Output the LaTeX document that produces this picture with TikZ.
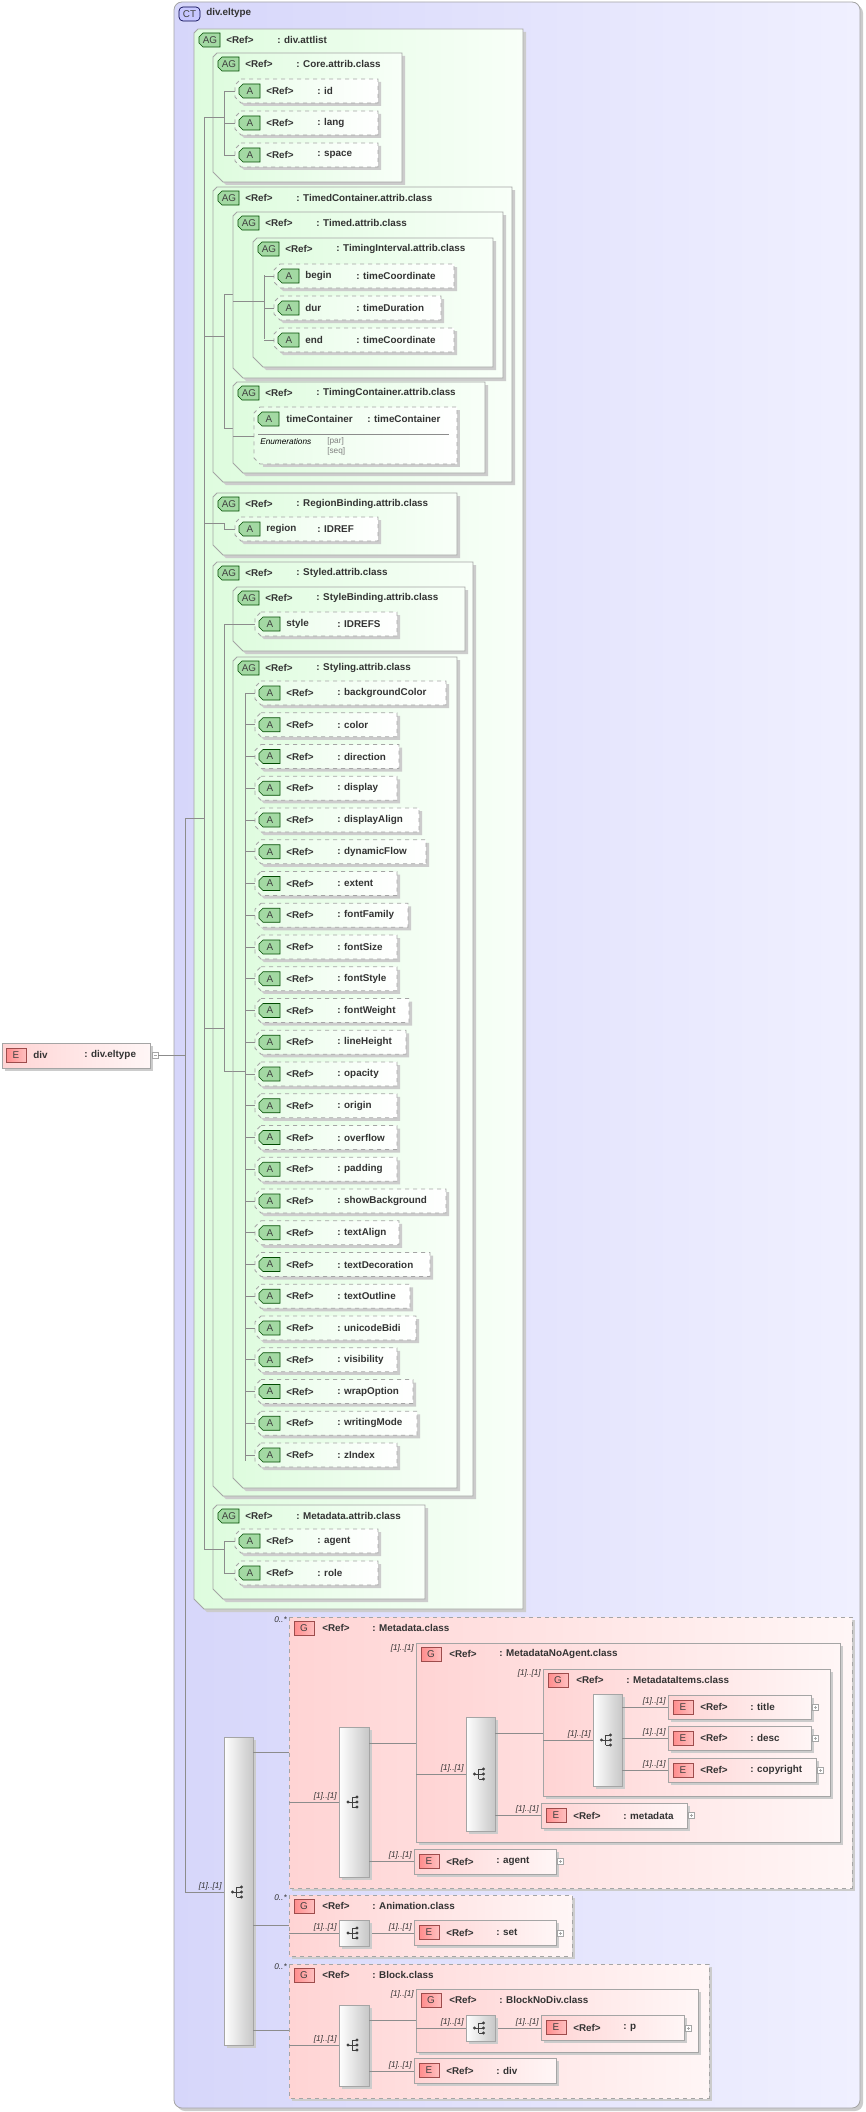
\documentclass[tikz,border=0pt]{standalone}
\usepackage{fontspec}
\setmainfont{Liberation Sans}
\begin{document}
\definecolor{ctL}{RGB}{214,214,250}
\definecolor{ctR}{RGB}{240,240,255}
\definecolor{agL}{RGB}{222,252,222}
\definecolor{agR}{RGB}{248,255,248}
\definecolor{pkL}{RGB}{255,212,212}
\definecolor{pkR}{RGB}{255,246,246}
\definecolor{bdr}{RGB}{165,165,165}
\definecolor{lnc}{RGB}{140,140,140}
\tikzset{
 shd/.style={fill=black!20},
 line/.style={draw=lnc, line width=0.5pt},
 txt/.style={anchor=west, inner sep=0pt, font=\fontsize{7.4}{8}\selectfont\bfseries, text=black!80},
 bdg/.style={inner sep=0pt, font=\fontsize{7.4}{8}\selectfont, text=black!75},
 mult/.style={anchor=south east, inner sep=0pt, font=\fontsize{6.2}{7}\selectfont\itshape, text=black!80},
 agfill/.style={draw=bdr, line width=0.6pt, left color=agL, right color=agR},
 afill/.style={draw=bdr, line width=0.6pt, dashed, left color=agL!70, right color=white},
 efill/.style={draw=bdr, line width=0.6pt, left color=pkL, right color=pkR},
 gfill/.style={draw=bdr, line width=0.6pt, dashed, left color=pkL, right color=pkR},
 sqfill/.style={draw=bdr, line width=0.6pt, left color=white, right color=black!22},
}
\newcommand\AGbadge[2]{%
 \draw[draw=black!50!green!60!black, fill=green!25!white!85!black, line width=0.5pt] (#1+4,#2-7)--(#1+21,#2-7)--(#1+21,#2+7)--(#1+4,#2+7)--(#1,#2+3)--(#1,#2-3)--cycle;}
\newcommand\AGbox[6]{%
 \fill[shd] (#1+7,#2+3)--(#3+3,#2+3)--(#3+3,#4+3)--(#1+13,#4+3)--(#1+3,#4-7)--cycle;
 \draw[agfill] (#1+4,#2)--(#3,#2)--(#3,#4)--(#1+10,#4)--(#1,#4-10)--(#1,#2+4)--cycle;
 \AGbadge{#1+5}{#2+11}
 \node[bdg] (#6b) at (#1+16,#2+11) {AG};
 \node[txt] (#6r) at (#1+32,#2+11) {<Ref>};
 \node[txt] (#6) at (#1+83,#2+11) {: #5};}
\newcommand\Abox[6]{%
 \fill[shd] (#1+9,#2-9)--(#3+3,#2-9)--(#3+3,#2+15)--(#1+9,#2+15)--(#1+3,#2+9)--cycle;
 \draw[afill] (#1+6,#2-12)--(#3,#2-12)--(#3,#2+12)--(#1+6,#2+12)--(#1,#2+6)--(#1,#2-6)--cycle;
 \AGbadge{#1+4}{#2}
 \node[bdg] (#6b) at (#1+15,#2) {A};
 \node[txt] (#6r) at (#1+31,#2) {#4};
 \node[txt] (#6) at (#1+82,#2) {#5};}
\newcommand\Ebadge[2]{%
 \draw[draw=red!45!black!70, left color=red!45!white, right color=red!25!white, line width=0.5pt] (#1,#2-7) rectangle (#1+20,#2+7);}
\newcommand\Ebox[7]{%
 \pgfmathsetmacro\ebm{(#2+#4)/2}
 \fill[shd] (#1+3,#2+3) rectangle (#3+3,#4+3);
 \draw[efill] (#1,#2) rectangle (#3,#4);
 \Ebadge{#1+5}{\ebm}
 \node[bdg] (#7b) at (#1+15,\ebm) {E};
 \node[txt] (#7r) at (#1+32,\ebm) {#5};
 \node[txt] (#7) at (#1+82,\ebm) {#6};}
\newcommand\Pl[2]{%
 \draw[draw=black!35, fill=white, line width=0.4pt] (#1,#2-3) rectangle (#1+6,#2+3);
 \draw[draw=black!35, line width=0.4pt] (#1+1.5,#2)--(#1+4.5,#2) (#1+3,#2-1.5)--(#1+3,#2+1.5);}
\newcommand\Gbox[7]{%
 \fill[shd] (#1+3,#2+3) rectangle (#3+3,#4+3);
 \draw[#6] (#1,#2) rectangle (#3,#4);
 \Ebadge{#1+5}{#2+11}
 \node[bdg] (#7b) at (#1+15,#2+11) {G};
 \node[txt] (#7r) at (#1+33,#2+11) {<Ref>};
 \node[txt] (#7) at (#1+83,#2+11) {: #5};}
\newcommand\Sq[6]{%
 \pgfmathsetmacro\sqm{(#1+#3)/2}
 \fill[shd] (#1+3,#2+3) rectangle (#3+3,#4+3);
 \draw[sqfill] (#1,#2) rectangle (#3,#4);
 \coordinate (#6) at (\sqm,#5);
 \begin{scope}[shift={(#6)}]
 \draw[black!75, line width=0.7pt] (-6,0)--(-2,0) (-2,-5)--(-2,5) (-2,-5)--(3,-5) (-2,5)--(3,5) (-2,0)--(3,0);
 \fill[black!75] (-6,0) circle (1.6) (3,-5) circle (1.7) (3,0) circle (1.7) (3,5) circle (1.7);
 \end{scope}}
\begin{tikzpicture}[x=0.75pt,y=-0.75pt]
\useasboundingbox (0,0) rectangle (865,2112);
% CT box
\fill[shd, rounded corners=6] (177,5) rectangle (863,2111);
\draw[draw=bdr, line width=0.6pt, left color=ctL, right color=ctR, rounded corners=6] (174,2) rectangle (860,2108);
\draw[draw=black!50!blue!60!black, fill=blue!22!white, rounded corners=3, line width=0.5pt] (179,7) rectangle (200,21);
\node[bdg] (ctb) at (189.5,14) {CT};
\node[txt] (ct) at (206,13) {div.eltype};
% root element
\fill[shd] (5,1046) rectangle (153,1071);
\draw[efill] (2,1043) rectangle (150,1068);
\Ebadge{6}{1055}
\node[bdg] (rootb) at (16,1055) {E};
\node[txt] (rootr) at (33,1055) {div};
\node[txt] (root) at (84,1055) {: div.eltype};
\draw[draw=black!35, fill=white, line width=0.4pt] (152,1052) rectangle (158,1058);
\draw[draw=black!35, line width=0.4pt] (153.5,1055)--(156.5,1055);
\coordinate (rootP) at (158,1055);
\coordinate (j0) at (185,1055);
\draw[line] (rootP)--(j0);
\draw[line] (185,818)--(185,1892);
% attlist
\AGbox{194}{29}{523}{1609}{div.attlist}{attlist}
\draw[line] (185,818)--(204,818);
\draw[line] (204,117)--(204,1549);
% Core
\AGbox{213}{53}{402}{182}{Core.attrib.class}{core}
\draw[line] (204,117)--(224,117) (224,91)--(224,155);
\Abox{235}{91}{378}{<Ref>}{: id}{aid}
\Abox{235}{123}{378}{<Ref>}{: lang}{alang}
\Abox{235}{155}{378}{<Ref>}{: space}{aspace}
\foreach \yy in {91,123,155} \draw[line] (224,\yy)--(235,\yy);
% TimedContainer
\AGbox{213}{187}{512}{482}{TimedContainer.attrib.class}{timedc}
\draw[line] (204,336)--(224,336) (224,294)--(224,428) (224,294)--(233,294) (224,428)--(233,428);
\AGbox{233}{212}{503}{378}{Timed.attrib.class}{timed}
\AGbox{253}{238}{493}{367}{TimingInterval.attrib.class}{tint}
\draw[line] (233,301)--(264,301) (264,275)--(264,339);
\Abox{274}{276}{454}{begin}{: timeCoordinate}{abegin}
\Abox{274}{308}{441}{dur}{: timeDuration}{adur}
\Abox{274}{340}{454}{end}{: timeCoordinate}{aend}
\foreach \yy in {276,308,340} \draw[line] (264,\yy)--(274,\yy);
\AGbox{233}{382}{485}{473}{TimingContainer.attrib.class}{tcont}
\fill[shd] (263,410) rectangle (460,467);
\draw[afill] (260,407)--(457,407)--(457,464)--(260,464)--(254,458)--(254,413)--cycle;
\AGbadge{258}{419}
\node[bdg] (atcb) at (269,419) {A};
\node[txt] (atcr) at (286,419) {timeContainer};
\node[txt] (atc) at (367,419) {: timeContainer};
\draw[draw=black!45, line width=0.5pt] (258,434)--(449,434);
\node[anchor=west, inner sep=0pt, font=\fontsize{6.2}{7}\selectfont\itshape] (enum) at (260,442) {Enumerations};
\node[anchor=west, inner sep=0pt, font=\fontsize{6.2}{7}\selectfont, text=black!50] (epar) at (327,441) {[par]};
\node[anchor=west, inner sep=0pt, font=\fontsize{6.2}{7}\selectfont, text=black!50] (eseq) at (327,451) {[seq]};
\draw[line] (233,436)--(254,436);
% RegionBinding
\AGbox{213}{493}{457}{555}{RegionBinding.attrib.class}{regb}
\Abox{235}{529}{378}{region}{: IDREF}{aregion}
\draw[line] (204,523)--(224,523)--(224,529)--(235,529);
% Styled
\AGbox{213}{562}{473}{1496}{Styled.attrib.class}{styled}
\draw[line] (204,1028)--(224,1028) (224,624)--(224,1071) (224,1071)--(233,1071);
\AGbox{233}{587}{465}{651}{StyleBinding.attrib.class}{styleb}
\Abox{255}{624}{397}{style}{: IDREFS}{astyle}
\draw[line] (224,624)--(255,624);
\AGbox{233}{657}{457}{1488}{Styling.attrib.class}{styling}
\draw[line] (233,1071)--(245,1071) (245,693)--(245,1461);
\foreach \n/\r [count=\i from 0] in {backgroundColor/446,color/397,direction/399,display/397,displayAlign/419,dynamicFlow/426,extent/397,fontFamily/408,fontSize/397,fontStyle/397,fontWeight/409,lineHeight/406,opacity/397,origin/397,overflow/397,padding/397,showBackground/446,textAlign/399,textDecoration/430,textOutline/410,unicodeBidi/416,visibility/397,wrapOption/413,writingMode/417,zIndex/397}{
 \pgfmathsetmacro\yy{693+31.75*\i}
 \draw[line] (245,\yy)--(255,\yy);
 \Abox{255}{\yy}{\r}{<Ref>}{: \n}{st\i}
}
% Metadata.attrib
\AGbox{213}{1505}{425}{1599}{Metadata.attrib.class}{mdattr}
\draw[line] (204,1549)--(224,1549) (224,1541)--(224,1573);
\Abox{235}{1541}{378}{<Ref>}{: agent}{aagent}
\Abox{235}{1573}{378}{<Ref>}{: role}{arole}
\draw[line] (224,1541)--(235,1541) (224,1573)--(235,1573);
% ===== content model =====
\draw[line] (185,1892)--(224,1892);
\node[mult] (m0) at (222,1890) {[1]..[1]};
\Sq{224}{1737}{253}{2045}{1892}{sq0}
\draw[line] (253,1752)--(289,1752) (253,1925)--(289,1925) (253,2030)--(289,2030);
% Metadata.class
\Gbox{289}{1617}{852}{1888}{Metadata.class}{gfill}{gmd}
\node[mult, anchor=east] (m1) at (287,1620) {0..*};
\draw[line] (289,1802)--(339,1802);
\node[mult] (m2) at (337,1800) {[1]..[1]};
\Sq{339}{1727}{369}{1877}{1802}{sq1}
\draw[line] (369,1743)--(416,1743) (369,1861)--(414,1861);
\Gbox{416}{1643}{840}{1842}{MetadataNoAgent.class}{efill}{gmna}
\node[mult, anchor=east] (m3) at (414,1648) {[1]..[1]};
\draw[line] (416,1774)--(466,1774);
\node[mult] (m4) at (464,1772) {[1]..[1]};
\Sq{466}{1717}{495}{1831}{1774}{sq2}
\draw[line] (495,1733)--(543,1733) (495,1815)--(541,1815);
\Gbox{543}{1669}{830}{1796}{MetadataItems.class}{efill}{gmi}
\node[mult, anchor=east] (m5) at (541,1673) {[1]..[1]};
\draw[line] (543,1740)--(593,1740);
\node[mult] (m6) at (591,1738) {[1]..[1]};
\Sq{593}{1694}{622}{1786}{1740}{sq3}
\draw[line] (622,1707)--(668,1707) (622,1738)--(668,1738) (622,1770)--(668,1770);
\node[mult] (m7) at (666,1705) {[1]..[1]};
\node[mult] (m8) at (666,1736) {[1]..[1]};
\node[mult] (m9) at (666,1768) {[1]..[1]};
\Ebox{668}{1695}{811}{1719}{<Ref>}{: title}{etitle}\Pl{812}{1707}
\Ebox{668}{1726}{811}{1750}{<Ref>}{: desc}{edesc}\Pl{812}{1738}
\Ebox{668}{1758}{816}{1782}{<Ref>}{: copyright}{ecopy}\Pl{817}{1770}
\node[mult] (m10) at (539,1813) {[1]..[1]};
\Ebox{541}{1803}{687}{1828}{<Ref>}{: metadata}{emeta}\Pl{688}{1815}
\node[mult] (m11) at (412,1859) {[1]..[1]};
\Ebox{414}{1849}{556}{1874}{<Ref>}{: agent}{eagent}\Pl{557}{1861}
% Animation.class
\Gbox{289}{1895}{572}{1956}{Animation.class}{gfill}{gan}
\node[mult, anchor=east] (m12) at (287,1898) {0..*};
\draw[line] (289,1933)--(339,1933) (369,1933)--(414,1933);
\node[mult] (m13) at (337,1931) {[1]..[1]};
\Sq{339}{1920}{369}{1946}{1933}{sq4}
\node[mult] (m14) at (412,1931) {[1]..[1]};
\Ebox{414}{1920}{556}{1945}{<Ref>}{: set}{eset}\Pl{557}{1933}
% Block.class
\Gbox{289}{1964}{709}{2098}{Block.class}{gfill}{gbl}
\node[mult, anchor=east] (m15) at (287,1967) {0..*};
\draw[line] (289,2045)--(339,2045);
\node[mult] (m16) at (337,2043) {[1]..[1]};
\Sq{339}{2005}{369}{2086}{2045}{sq5}
\draw[line] (369,2020)--(416,2020) (369,2071)--(414,2071);
\Gbox{416}{1989}{698}{2052}{BlockNoDiv.class}{efill}{gbnd}
\node[mult, anchor=east] (m17) at (414,1994) {[1]..[1]};
\draw[line] (416,2028)--(466,2028) (495,2028)--(541,2028);
\node[mult] (m18) at (464,2026) {[1]..[1]};
\Sq{466}{2015}{495}{2041}{2028}{sq6}
\node[mult] (m19) at (539,2026) {[1]..[1]};
\Ebox{541}{2015}{684}{2040}{<Ref>}{: p}{ep}\Pl{685}{2028}
\node[mult] (m20) at (412,2069) {[1]..[1]};
\Ebox{414}{2058}{556}{2083}{<Ref>}{: div}{ediv}
\end{tikzpicture}
\end{document}
